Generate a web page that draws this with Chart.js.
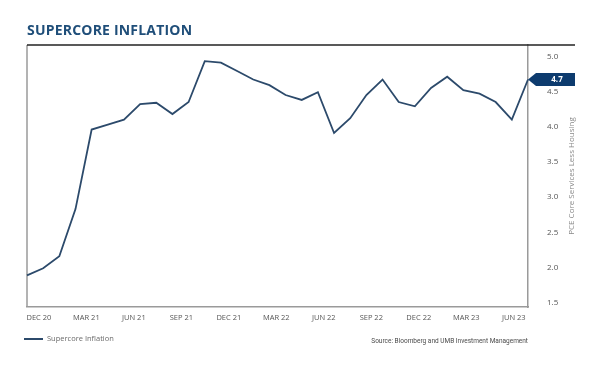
<!DOCTYPE html>
<html>
<head>
<meta charset="utf-8">
<script src="https://cdn.jsdelivr.net/npm/chart.js@4"></script>
<style>
  body { margin: 0; background: #ffffff; }
  #wrap { position: relative; width: 600px; height: 367px; font-family: "Open Sans", sans-serif; }
  #chart-title { position: absolute; left: 27px; top: 23px; margin: 0; font-size: 14px; line-height: 14px; font-weight: 700; color: #1f4e79; letter-spacing: 0.2px; }
  #legend { position: absolute; left: 24px; top: 333px; font-size: 7.5px; line-height: 10px; color: #6b6b6b; }
  #legend .swatch { display: inline-block; width: 19px; height: 2px; background: #2c4a6b; vertical-align: middle; margin-right: 4px; }
  #source { position: absolute; right: 72px; top: 336px; font-family: Roboto, sans-serif; font-size: 6.5px; line-height: 10px; color: #4a4a4a; }
  canvas { position: absolute; left: 0; top: 0; }
</style>
</head>
<body>
<div id="wrap">
  <canvas id="supercore-chart" width="600" height="367"></canvas>
  <h1 id="chart-title">SUPERCORE INFLATION</h1>
  <div id="legend"><span class="swatch"></span>Supercore Inflation</div>
  <div id="source">Source: Bloomberg and UMB Investment Management</div>
</div>
<script>
const chartCanvas = document.getElementById("supercore-chart");

const months = [
  "Nov 20", "Dec 20", "Jan 21", "Feb 21", "Mar 21", "Apr 21", "May 21", "Jun 21",
  "Jul 21", "Aug 21", "Sep 21", "Oct 21", "Nov 21", "Dec 21", "Jan 22", "Feb 22",
  "Mar 22", "Apr 22", "May 22", "Jun 22", "Jul 22", "Aug 22", "Sep 22", "Oct 22",
  "Nov 22", "Dec 22", "Jan 23", "Feb 23", "Mar 23", "Apr 23", "May 23", "Jun 23"
];

const supercoreValues = [
  1.89, 1.99, 2.16, 2.83, 3.96, 4.03, 4.10, 4.32,
  4.34, 4.18, 4.35, 4.93, 4.91, 4.79, 4.67, 4.59,
  4.45, 4.38, 4.49, 3.91, 4.12, 4.45, 4.67, 4.35,
  4.29, 4.55, 4.71, 4.52, 4.47, 4.35, 4.10, 4.67
];

const quarterLabels = [
  "DEC 20", "MAR 21", "JUN 21", "SEP 21", "DEC 21", "MAR 22",
  "JUN 22", "SEP 22", "DEC 22", "MAR 23", "JUN 23"
];

const yTicks = [1.5, 2.0, 2.5, 3.0, 3.5, 4.0, 4.5, 5.0];

const LINE_COLOR = "#2c4a6b";
const CALLOUT_COLOR = "#0d3b6e";
const TICK_COLOR = "#555555";

// frame lines, right axis title and the last-value tag
const framePlugin = {
  id: "frame",
  beforeDatasetsDraw(chart) {
    const { ctx, chartArea } = chart;
    ctx.save();
    ctx.strokeStyle = "#9a9a9a";
    ctx.lineWidth = 1.5;
    ctx.beginPath();
    ctx.moveTo(chartArea.left, chartArea.top);
    ctx.lineTo(chartArea.left, chartArea.bottom);
    ctx.stroke();

    ctx.strokeStyle = "#222222";
    ctx.lineWidth = 1.5;
    ctx.beginPath();
    ctx.moveTo(chartArea.left, chartArea.top);
    ctx.lineTo(chartArea.right + 47, chartArea.top);
    ctx.stroke();

    ctx.translate(chartArea.right + 44, (chartArea.top + chartArea.bottom) / 2);
    ctx.rotate(-Math.PI / 2);
    ctx.fillStyle = "#8a8a8a";
    ctx.font = "8px 'Open Sans', sans-serif";
    ctx.textAlign = "center";
    ctx.textBaseline = "middle";
    ctx.fillText("PCE Core Services Less Housing", 0, 0);
    ctx.restore();
  },
  afterDatasetsDraw(chart) {
    const { ctx, chartArea, scales } = chart;
    const lastValue = supercoreValues[supercoreValues.length - 1];
    const y = scales.y.getPixelForValue(lastValue);
    const x = chartArea.right;
    ctx.save();
    ctx.fillStyle = CALLOUT_COLOR;
    ctx.beginPath();
    ctx.moveTo(x, y);
    ctx.lineTo(x + 8, y - 6.5);
    ctx.lineTo(x + 47, y - 6.5);
    ctx.lineTo(x + 47, y + 6.5);
    ctx.lineTo(x + 8, y + 6.5);
    ctx.closePath();
    ctx.fill();
    ctx.fillStyle = "#ffffff";
    ctx.font = "bold 8px 'Open Sans', sans-serif";
    ctx.textAlign = "center";
    ctx.textBaseline = "middle";
    ctx.fillText(lastValue.toFixed(1), x + 29, y + 0.5);
    ctx.restore();
  }
};

new Chart(chartCanvas, {
  type: "line",
  data: {
    labels: months,
    datasets: [
      {
        label: "Supercore Inflation",
        data: supercoreValues,
        borderColor: LINE_COLOR,
        borderWidth: 1.8,
        pointRadius: 0,
        tension: 0,
        xAxisID: "x",
        yAxisID: "y"
      }
    ]
  },
  options: {
    responsive: false,
    maintainAspectRatio: false,
    animation: false,
    layout: {
      padding: { top: 45, left: 27, right: 0, bottom: 0 }
    },
    plugins: {
      legend: { display: false },
      tooltip: { enabled: false }
    },
    scales: {
      x: {
        type: "category",
        display: false
      },
      quarters: {
        type: "linear",
        position: "bottom",
        min: -0.25,
        max: 10.3,
        afterBuildTicks(scale) {
          scale.ticks = quarterLabels.map((label, index) => ({ value: index }));
        },
        afterFit(scale) {
          scale.height = 60;
        },
        grid: { display: false, drawTicks: false },
        border: { display: true, color: "#9a9a9a", width: 1.5 },
        ticks: {
          autoSkip: false,
          maxRotation: 0,
          padding: 6,
          color: TICK_COLOR,
          font: { family: "'Open Sans', sans-serif", size: 7.5 },
          callback(value) {
            return quarterLabels[value];
          }
        }
      },
      y: {
        position: "right",
        min: 1.44,
        max: 5.16,
        afterBuildTicks(scale) {
          scale.ticks = yTicks.map((value) => ({ value }));
        },
        afterFit(scale) {
          scale.width = 72;
        },
        grid: { display: false, drawTicks: false },
        border: { display: true, color: "#9a9a9a", width: 1.5 },
        ticks: {
          padding: 19,
          color: TICK_COLOR,
          font: { family: "'Open Sans', sans-serif", size: 8 },
          callback(value) {
            return Number(value).toFixed(1);
          }
        }
      }
    }
  },
  plugins: [framePlugin]
});
</script>
</body>
</html>
